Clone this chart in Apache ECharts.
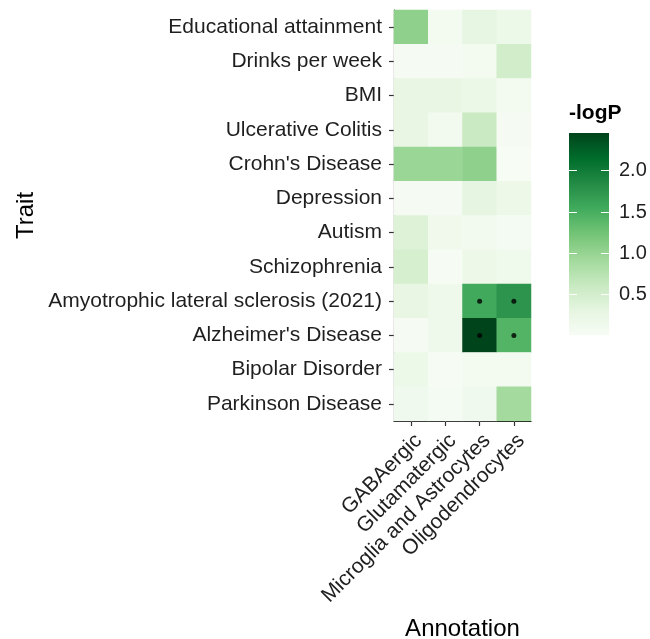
<!DOCTYPE html>
<html>
<head>
<meta charset="utf-8">
<title>-logP by trait and cell type</title>
<script src="https://cdn.jsdelivr.net/npm/echarts@6/dist/echarts.min.js"></script>
<style>
  html, body { margin: 0; padding: 0; background: #fff; }
  #chart { width: 650px; height: 639px; }
</style>
</head>
<body>
<div id="chart"></div>
<script>
// Cell-type annotations (columns) and GWAS traits (rows, top to bottom)
const annotations = ['GABAergic', 'Glutamatergic', 'Microglia and Astrocytes', 'Oligodendrocytes'];
const traits = [
  'Educational attainment',
  'Drinks per week',
  'BMI',
  'Ulcerative Colitis',
  "Crohn's Disease",
  'Depression',
  'Autism',
  'Schizophrenia',
  'Amyotrophic lateral sclerosis (2021)',
  "Alzheimer's Disease",
  'Bipolar Disorder',
  'Parkinson Disease'
];

// -logP per cell type, one array per annotation, ordered as the traits above
const gabaergic     = [1.05, 0.04, 0.25, 0.25, 0.97, 0.05, 0.40, 0.48, 0.25, 0.05, 0.20, 0.13];
const glutamatergic = [0.08, 0.05, 0.25, 0.10, 0.97, 0.05, 0.12, 0.03, 0.15, 0.15, 0.03, 0.06];
const microglia     = [0.28, 0.07, 0.22, 0.60, 1.05, 0.30, 0.10, 0.18, 1.55, 2.45, 0.08, 0.13];
const oligo         = [0.20, 0.52, 0.08, 0.04, 0.01, 0.18, 0.06, 0.14, 1.75, 1.42, 0.08, 0.90];

// Cells flagged as significant (drawn with a dot): [annotation, trait]
const significant = [
  ['Microglia and Astrocytes', 'Amyotrophic lateral sclerosis (2021)'],
  ['Oligodendrocytes', 'Amyotrophic lateral sclerosis (2021)'],
  ['Microglia and Astrocytes', "Alzheimer's Disease"],
  ['Oligodendrocytes', "Alzheimer's Disease"]
];

// Colour bar ticks
const legendTicks = [0.5, 1.0, 1.5, 2.0];

// Brewer "Greens" sequential palette, light to dark
const greens = ['#f7fcf5', '#e5f5e0', '#c7e9c0', '#a1d99b', '#74c476', '#41ab5d', '#238b45', '#006d2c', '#00441b'];

const columns = [gabaergic, glutamatergic, microglia, oligo];
const cells = [];
columns.forEach((col, ci) => {
  col.forEach((v, ri) => cells.push([annotations[ci], traits[ri], v]));
});
const allVals = columns.flat();
const vMin = Math.min(...allVals);
const vMax = Math.max(...allVals);

const FONT = '"Liberation Sans", Arial, Helvetica, sans-serif';
const TEXT = '#1f1f1f';

// Colour bar geometry
const bar = { x: 569, y: 133, w: 40, h: 202 };
const valueToY = v => bar.y + (vMax - v) / (vMax - vMin) * bar.h;

const legendGraphics = [
  {
    type: 'text',
    left: bar.x, top: 103,
    style: { text: '-logP', font: 'bold 21px ' + FONT, fill: '#000' }
  },
  {
    type: 'rect',
    shape: { x: bar.x, y: bar.y, width: bar.w, height: bar.h },
    style: {
      fill: new echarts.graphic.LinearGradient(0, 1, 0, 0,
        greens.map((c, i) => ({ offset: i / (greens.length - 1), color: c })))
    },
    z: 10
  }
];
legendTicks.forEach(t => {
  const y = Math.round(valueToY(t)) + 0.5;
  legendGraphics.push(
    { type: 'line', shape: { x1: bar.x, y1: y, x2: bar.x + 8, y2: y }, style: { stroke: '#fff', lineWidth: 1 }, z: 11 },
    { type: 'line', shape: { x1: bar.x + bar.w - 8, y1: y, x2: bar.x + bar.w, y2: y }, style: { stroke: '#fff', lineWidth: 1 }, z: 11 },
    {
      type: 'text', x: bar.x + bar.w + 10, y: y, z: 11,
      style: { text: t.toFixed(1), font: '20px ' + FONT, fill: TEXT, verticalAlign: 'middle', align: 'left' }
    }
  );
});

const chart = echarts.init(document.getElementById('chart'), null, { renderer: 'canvas' });
chart.setOption({
  animation: false,
  backgroundColor: '#fff',
  textStyle: { fontFamily: FONT },
  grid: { left: 394, top: 10, width: 137, height: 411, containLabel: false, outerBoundsMode: 'none' },
  xAxis: {
    type: 'category',
    data: annotations,
    name: 'Annotation',
    nameLocation: 'middle',
    nameGap: 196,
    nameTextStyle: { fontSize: 24, color: '#000', fontFamily: FONT },
    axisLine: { show: true, lineStyle: { color: '#000', width: 1.2 } },
    axisTick: { show: true, alignWithLabel: true, length: 5, lineStyle: { color: '#333', width: 1.2 } },
    axisLabel: { rotate: 45, margin: 9, fontSize: 21, color: TEXT, fontFamily: FONT, interval: 0, verticalAlign: 'top' },
    splitLine: { show: false },
    splitArea: { show: false }
  },
  yAxis: {
    type: 'category',
    data: traits,
    inverse: true,
    name: 'Trait',
    nameLocation: 'middle',
    nameGap: 356,
    nameTextStyle: { fontSize: 24, color: '#000', fontFamily: FONT },
    axisLine: { show: true, lineStyle: { color: '#000', width: 1.2 } },
    axisTick: { show: true, alignWithLabel: true, length: 5, lineStyle: { color: '#333', width: 1.2 } },
    axisLabel: { margin: 12, fontSize: 21, color: TEXT, fontFamily: FONT, interval: 0 },
    splitLine: { show: false },
    splitArea: { show: false }
  },
  visualMap: {
    show: false,
    type: 'continuous',
    min: vMin,
    max: vMax,
    dimension: 2,
    seriesIndex: 0,
    inRange: { color: greens }
  },
  series: [
    {
      type: 'heatmap',
      data: cells,
      itemStyle: { borderWidth: 0 },
      emphasis: { disabled: true }
    },
    {
      type: 'scatter',
      data: significant,
      symbol: 'circle',
      symbolSize: 5,
      itemStyle: { color: '#000' },
      z: 5
    }
  ],
  graphic: legendGraphics
});
</script>
</body>
</html>
